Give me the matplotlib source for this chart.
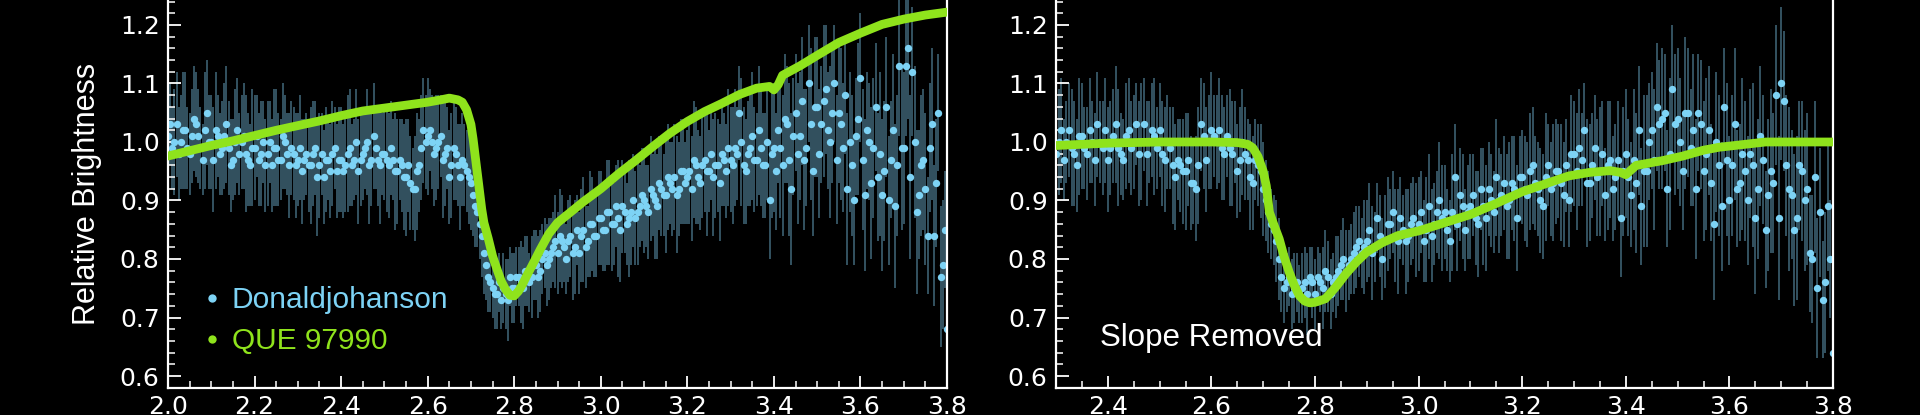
import numpy as np
import matplotlib.pyplot as plt
from matplotlib.lines import Line2D
from matplotlib.ticker import MultipleLocator

# ---- Donaldjohanson spectrum (relative brightness vs wavelength, um)
dj_wl = [2.00, 2.01, 2.02, 2.03, 2.04, 2.05, 2.06, 2.07, 2.08, 2.09,
         2.10, 2.11, 2.12, 2.13, 2.14, 2.15, 2.16, 2.17, 2.18, 2.19,
         2.20, 2.21, 2.22, 2.23, 2.24, 2.25, 2.26, 2.27, 2.28, 2.29,
         2.30, 2.31, 2.32, 2.33, 2.34, 2.35, 2.36, 2.37, 2.38, 2.39,
         2.40, 2.41, 2.42, 2.43, 2.44, 2.45, 2.46, 2.47, 2.48, 2.49,
         2.50, 2.51, 2.52, 2.53, 2.54, 2.55, 2.56, 2.57, 2.58, 2.59,
         2.60, 2.61, 2.62, 2.63, 2.64, 2.65, 2.66, 2.67, 2.68, 2.69,
         2.70, 2.71, 2.72, 2.73, 2.74, 2.75, 2.76, 2.77, 2.78, 2.79,
         2.80, 2.81, 2.82, 2.83, 2.84, 2.85, 2.86, 2.87, 2.88, 2.89,
         2.90, 2.91, 2.92, 2.93, 2.94, 2.95, 2.96, 2.97, 2.98, 2.99,
         3.00, 3.01, 3.02, 3.03, 3.04, 3.05, 3.06, 3.07, 3.08, 3.09,
         3.10, 3.11, 3.12, 3.13, 3.14, 3.15, 3.16, 3.17, 3.18, 3.19,
         3.20, 3.21, 3.22, 3.23, 3.24, 3.25, 3.26, 3.27, 3.28, 3.29,
         3.30, 3.31, 3.32, 3.33, 3.34, 3.35, 3.36, 3.37, 3.38, 3.39,
         3.40, 3.41, 3.42, 3.43, 3.44, 3.45, 3.46, 3.47, 3.48, 3.49,
         3.50, 3.51, 3.52, 3.53, 3.54, 3.55, 3.56, 3.57, 3.58, 3.59,
         3.60, 3.61, 3.62, 3.63, 3.64, 3.65, 3.66, 3.67, 3.68, 3.69,
         3.70, 3.71, 3.72, 3.73, 3.74, 3.75, 3.76, 3.77, 3.78, 3.79,
         3.80]
dj_flux = [1.01, 0.99, 1.03, 1.00, 1.02, 0.98, 1.04, 1.01, 0.97, 1.05,
           1.00, 1.02, 0.98, 1.01, 0.99, 0.97, 1.02, 1.00, 0.98, 0.96,
           0.99, 0.97, 1.00, 0.98, 0.96, 0.99, 0.97, 1.00, 0.96, 0.98,
           0.97, 0.95, 0.98, 0.96, 0.99, 0.96, 0.94, 0.97, 0.98, 0.95,
           0.97, 0.96, 0.99, 0.97, 0.95, 0.98, 1.00, 0.97, 0.99, 0.96,
           0.98, 0.96, 0.97, 0.95, 0.96, 0.94, 0.93, 0.92, 0.96, 1.02,
           1.01, 1.00, 0.99, 1.01, 0.98, 0.94, 0.99, 0.96, 0.97, 0.95,
           0.93, 0.89, 0.86, 0.81, 0.77, 0.75, 0.74, 0.73, 0.74, 0.77,
           0.75, 0.77, 0.75, 0.78, 0.77, 0.79, 0.78, 0.81, 0.80, 0.82,
           0.81, 0.83, 0.80, 0.84, 0.82, 0.81, 0.85, 0.83, 0.86, 0.84,
           0.87, 0.85, 0.88, 0.86, 0.87, 0.89, 0.86, 0.88, 0.87, 0.89,
           0.90, 0.88, 0.91, 0.89, 0.92, 0.91, 0.93, 0.94, 0.92, 0.95,
           0.94, 0.92, 0.96, 0.93, 0.97, 0.95, 0.94, 0.96, 0.98, 0.95,
           0.97, 0.99, 1.05, 0.96, 0.98, 1.01, 0.97, 0.99, 0.96, 0.90,
           0.99, 1.02, 0.96, 1.03, 0.92, 1.05, 1.01, 0.97, 1.10, 0.95,
           1.06, 1.03, 1.09, 1.00, 1.10, 1.05, 0.99, 0.92, 0.96, 1.01,
           1.11, 0.91, 1.00, 0.99, 0.94, 0.91, 1.06, 0.97, 0.89, 1.13,
           0.99, 1.16, 1.12, 0.88, 0.96, 0.92, 0.99, 0.84, 1.05, 0.79,
           0.68]
dj_err = [0.08, 0.07, 0.09, 0.08, 0.10, 0.07, 0.09, 0.08, 0.06, 0.09,
          0.08, 0.10, 0.07, 0.09, 0.08, 0.07, 0.09, 0.08, 0.10, 0.07,
          0.09, 0.08, 0.07, 0.09, 0.08, 0.10, 0.07, 0.08, 0.09, 0.08,
          0.08, 0.09, 0.07, 0.10, 0.08, 0.09, 0.08, 0.07, 0.09, 0.08,
          0.09, 0.08, 0.10, 0.07, 0.09, 0.08, 0.09, 0.08, 0.07, 0.10,
          0.08, 0.09, 0.07, 0.09, 0.08, 0.10, 0.08, 0.09, 0.08, 0.09,
          0.10, 0.08, 0.09, 0.07, 0.09, 0.08, 0.09, 0.07, 0.08, 0.07,
          0.08, 0.07, 0.06, 0.07, 0.06, 0.05, 0.06, 0.05, 0.06, 0.05,
          0.06, 0.05, 0.07, 0.06, 0.07, 0.06, 0.07, 0.06, 0.07, 0.06,
          0.07, 0.08, 0.06, 0.07, 0.08, 0.07, 0.09, 0.06, 0.08, 0.07,
          0.08, 0.07, 0.09, 0.07, 0.10, 0.08, 0.07, 0.09, 0.08, 0.07,
          0.09, 0.08, 0.07, 0.09, 0.08, 0.10, 0.07, 0.09, 0.08, 0.09,
          0.08, 0.09, 0.10, 0.08, 0.09, 0.07, 0.10, 0.08, 0.09, 0.08,
          0.09, 0.10, 0.08, 0.10, 0.09, 0.11, 0.08, 0.10, 0.09, 0.10,
          0.11, 0.09, 0.12, 0.10, 0.13, 0.10, 0.11, 0.12, 0.10, 0.11,
          0.12, 0.10, 0.11, 0.13, 0.10, 0.12, 0.11, 0.13, 0.12, 0.10,
          0.11, 0.13, 0.10, 0.12, 0.11, 0.13, 0.12, 0.10, 0.14, 0.12,
          0.13, 0.12, 0.11, 0.14, 0.12, 0.13, 0.11, 0.12, 0.10, 0.11,
          0.12]

# interleaved half-step channels
dj_wl_mid = [2.005, 2.015, 2.025, 2.035, 2.045, 2.055, 2.065, 2.075, 2.085, 2.095,
             2.105, 2.115, 2.125, 2.135, 2.145, 2.155, 2.165, 2.175, 2.185, 2.195,
             2.205, 2.215, 2.225, 2.235, 2.245, 2.255, 2.265, 2.275, 2.285, 2.295,
             2.305, 2.315, 2.325, 2.335, 2.345, 2.355, 2.365, 2.375, 2.385, 2.395,
             2.405, 2.415, 2.425, 2.435, 2.445, 2.455, 2.465, 2.475, 2.485, 2.495,
             2.505, 2.515, 2.525, 2.535, 2.545, 2.555, 2.565, 2.575, 2.585, 2.595,
             2.605, 2.615, 2.625, 2.635, 2.645, 2.655, 2.665, 2.675, 2.685, 2.695,
             2.705, 2.715, 2.725, 2.735, 2.745, 2.755, 2.765, 2.775, 2.785, 2.795,
             2.805, 2.815, 2.825, 2.835, 2.845, 2.855, 2.865, 2.875, 2.885, 2.895,
             2.905, 2.915, 2.925, 2.935, 2.945, 2.955, 2.965, 2.975, 2.985, 2.995,
             3.005, 3.015, 3.025, 3.035, 3.045, 3.055, 3.065, 3.075, 3.085, 3.095,
             3.105, 3.115, 3.125, 3.135, 3.145, 3.155, 3.165, 3.175, 3.185, 3.195,
             3.205, 3.215, 3.225, 3.235, 3.245, 3.255, 3.265, 3.275, 3.285, 3.295,
             3.305, 3.315, 3.325, 3.335, 3.345, 3.355, 3.365, 3.375, 3.385, 3.395,
             3.405, 3.415, 3.425, 3.435, 3.445, 3.455, 3.465, 3.475, 3.485, 3.495,
             3.505, 3.515, 3.525, 3.535, 3.545, 3.555, 3.565, 3.575, 3.585, 3.595,
             3.605, 3.615, 3.625, 3.635, 3.645, 3.655, 3.665, 3.675, 3.685, 3.695,
             3.705, 3.715, 3.725, 3.735, 3.745, 3.755, 3.765, 3.775, 3.785, 3.795]
dj_flux_mid = [1.03, 1.00, 0.98, 1.02, 0.99, 1.01, 1.03, 0.99, 1.02, 1.00,
               0.97, 1.01, 0.99, 1.03, 0.96, 1.00, 0.98, 1.01, 0.97, 0.99,
               1.01, 0.98, 0.96, 1.00, 0.99, 0.97, 1.01, 0.98, 0.99, 0.96,
               0.99, 0.97, 0.96, 0.98, 0.94, 0.98, 0.97, 0.95, 0.99, 0.97,
               0.95, 0.98, 0.96, 1.00, 0.97, 0.99, 0.96, 1.01, 0.97, 0.98,
               0.97, 0.99, 0.95, 0.97, 0.94, 0.96, 0.92, 0.95, 0.99, 1.00,
               1.02, 0.98, 1.00, 0.97, 0.99, 0.96, 0.98, 0.94, 0.96, 0.94,
               0.91, 0.88, 0.84, 0.79, 0.76, 0.74, 0.76, 0.75, 0.73, 0.75,
               0.77, 0.76, 0.78, 0.76, 0.79, 0.77, 0.80, 0.79, 0.81, 0.83,
               0.84, 0.82, 0.83, 0.81, 0.85, 0.84, 0.82, 0.86, 0.84, 0.87,
               0.85, 0.88, 0.86, 0.89, 0.85, 0.88, 0.87, 0.90, 0.88, 0.91,
               0.89, 0.92, 0.90, 0.93, 0.91, 0.94, 0.92, 0.91, 0.95, 0.93,
               0.95, 0.97, 0.94, 0.96, 0.95, 0.98, 0.96, 0.93, 0.97, 0.99,
               0.96, 0.98, 1.00, 0.95, 0.99, 0.97, 1.02, 0.96, 1.00, 0.98,
               0.95, 0.99, 1.04, 0.97, 1.01, 0.98, 1.07, 0.99, 1.03, 1.06,
               0.98, 1.07, 1.02, 1.05, 0.97, 1.03, 1.08, 1.00, 0.90, 1.04,
               0.97, 1.02, 0.93, 1.06, 0.98, 0.95, 0.90, 1.02, 0.96, 0.99,
               1.13, 0.94, 1.00, 0.91, 0.97, 0.84, 1.03, 0.93, 0.77, 0.85]
dj_err_mid = [0.07, 0.09, 0.08, 0.10, 0.07, 0.08, 0.09, 0.07, 0.10, 0.08,
              0.09, 0.07, 0.08, 0.10, 0.08, 0.09, 0.07, 0.09, 0.08, 0.10,
              0.07, 0.09, 0.08, 0.07, 0.10, 0.08, 0.09, 0.07, 0.08, 0.09,
              0.09, 0.07, 0.08, 0.09, 0.10, 0.07, 0.09, 0.08, 0.07, 0.09,
              0.08, 0.10, 0.07, 0.09, 0.08, 0.07, 0.10, 0.09, 0.08, 0.07,
              0.09, 0.08, 0.10, 0.07, 0.09, 0.08, 0.07, 0.10, 0.09, 0.08,
              0.07, 0.09, 0.08, 0.10, 0.07, 0.09, 0.08, 0.09, 0.07, 0.08,
              0.07, 0.06, 0.07, 0.06, 0.05, 0.06, 0.05, 0.06, 0.07, 0.06,
              0.05, 0.07, 0.06, 0.05, 0.06, 0.07, 0.06, 0.07, 0.06, 0.08,
              0.08, 0.06, 0.07, 0.08, 0.06, 0.08, 0.07, 0.09, 0.07, 0.08,
              0.07, 0.09, 0.08, 0.07, 0.09, 0.07, 0.10, 0.08, 0.09, 0.08,
              0.07, 0.09, 0.10, 0.08, 0.07, 0.09, 0.08, 0.10, 0.09, 0.07,
              0.09, 0.10, 0.08, 0.09, 0.11, 0.08, 0.09, 0.10, 0.08, 0.10,
              0.10, 0.08, 0.11, 0.09, 0.10, 0.09, 0.11, 0.09, 0.10, 0.11,
              0.10, 0.12, 0.11, 0.13, 0.10, 0.12, 0.11, 0.10, 0.13, 0.12,
              0.11, 0.13, 0.10, 0.12, 0.11, 0.13, 0.10, 0.12, 0.11, 0.13,
              0.12, 0.10, 0.13, 0.11, 0.14, 0.12, 0.11, 0.13, 0.12, 0.14,
              0.12, 0.14, 0.13, 0.11, 0.12, 0.10, 0.13, 0.11, 0.12, 0.10]

# ---- Donaldjohanson, slope removed (2.30 - 3.80 um)
rm_wl = dj_wl[30:]
rm_flux = [0.98, 1.02, 1.00, 0.99, 0.96, 1.01, 0.98, 1.00, 1.03, 0.99,
           0.97, 1.01, 0.99, 0.97, 1.02, 1.00, 0.98, 1.03, 1.00, 1.01,
           1.02, 0.97, 0.99, 0.94, 0.96, 0.95, 0.93, 0.92, 1.03, 0.97,
           1.02, 1.00, 0.99, 1.01, 0.98, 0.95, 1.00, 0.97, 0.93, 0.96,
           0.92, 0.88, 0.85, 0.80, 0.75, 0.77, 0.75, 0.74, 0.76, 0.77,
           0.74, 0.76, 0.78, 0.74, 0.77, 0.79, 0.78, 0.80, 0.82, 0.81,
           0.83, 0.81, 0.87, 0.80, 0.86, 0.88, 0.83, 0.85, 0.84, 0.87,
           0.86, 0.83, 0.89, 0.86, 0.90, 0.88, 0.83, 0.94, 0.91, 0.85,
           0.89, 0.87, 0.92, 0.87, 0.90, 0.94, 0.91, 0.89, 0.93, 0.87,
           0.94, 0.91, 0.96, 0.92, 0.89, 0.96, 0.93, 0.95, 0.91, 0.90,
           0.98, 0.99, 1.02, 0.93, 0.99, 0.95, 0.91, 0.97, 0.94, 0.87,
           0.98, 0.91, 0.93, 0.89, 0.95, 1.02, 1.06, 1.04, 0.92, 1.09,
           1.04, 0.95, 1.05, 1.02, 1.05, 0.95, 1.02, 0.86, 0.96, 1.06,
           0.90, 1.03, 0.93, 0.95, 0.98, 0.87, 1.01, 0.85, 0.95, 1.08,
           1.10, 0.96, 0.91, 0.87, 0.95, 0.92, 0.80, 0.75, 0.73, 0.89,
           0.64]
rm_err = dj_err[30:]
rm_wl_mid = dj_wl_mid[30:]
rm_flux_mid = [1.00, 0.97, 1.02, 0.98, 1.01, 0.99, 1.02, 0.97, 1.00, 1.02,
               0.99, 1.03, 0.98, 1.01, 0.99, 1.03, 1.00, 0.98, 1.02, 0.99,
               0.98, 1.00, 0.96, 0.97, 0.95, 0.97, 0.93, 0.96, 1.01, 1.00,
               1.01, 1.02, 0.98, 0.99, 1.00, 0.97, 0.98, 0.94, 0.97, 0.95,
               0.90, 0.86, 0.83, 0.77, 0.76, 0.74, 0.76, 0.75, 0.74, 0.76,
               0.77, 0.75, 0.77, 0.76, 0.78, 0.80, 0.79, 0.81, 0.83, 0.82,
               0.85, 0.82, 0.84, 0.83, 0.86, 0.84, 0.87, 0.83, 0.86, 0.85,
               0.88, 0.85, 0.84, 0.88, 0.87, 0.85, 0.88, 0.86, 0.89, 0.88,
               0.91, 0.86, 0.89, 0.92, 0.88, 0.90, 0.93, 0.90, 0.92, 0.94,
               0.92, 0.95, 0.93, 0.90, 0.94, 0.92, 0.95, 0.93, 0.96, 0.98,
               0.95, 0.97, 0.93, 0.96, 0.94, 0.98, 0.96, 0.92, 0.97, 0.95,
               0.94, 0.97, 1.02, 0.95, 1.00, 0.97, 1.03, 1.05, 0.98, 1.03,
               1.00, 1.05, 0.99, 0.92, 1.03, 0.98, 0.93, 1.00, 0.89, 0.97,
               0.96, 0.92, 0.98, 0.90, 0.96, 0.92, 0.97, 0.91, 0.93, 0.87,
               1.07, 0.92, 0.85, 0.96, 0.90, 0.81, 0.94, 0.88, 0.76, 0.80]
rm_err_mid = dj_err_mid[30:]

# ---- QUE 97990 meteorite spectrum
que_wl = [2.00, 2.05, 2.10, 2.15, 2.20, 2.25, 2.30, 2.35, 2.40, 2.45,
          2.50, 2.55, 2.60, 2.63, 2.65, 2.67, 2.68, 2.69, 2.70, 2.705,
          2.71, 2.715, 2.72, 2.725, 2.73, 2.74, 2.75, 2.76, 2.77, 2.78,
          2.79, 2.80, 2.81, 2.82, 2.83, 2.84, 2.86, 2.88, 2.90, 2.93,
          2.96, 3.00, 3.04, 3.08, 3.12, 3.16, 3.20, 3.24, 3.28, 3.32,
          3.36, 3.39, 3.40, 3.41, 3.42, 3.46, 3.50, 3.55, 3.60, 3.65,
          3.70, 3.75, 3.80]
que_flux = [0.976, 0.985, 0.994, 1.002, 1.011, 1.020, 1.028, 1.036, 1.045, 1.053,
            1.058, 1.063, 1.068, 1.072, 1.075, 1.072, 1.068, 1.055, 1.030, 1.005,
            0.975, 0.945, 0.915, 0.885, 0.862, 0.835, 0.805, 0.783, 0.762, 0.748,
            0.738, 0.737, 0.745, 0.758, 0.773, 0.787, 0.816, 0.843, 0.862, 0.880,
            0.898, 0.920, 0.945, 0.968, 0.992, 1.015, 1.035, 1.052, 1.066, 1.081,
            1.092, 1.095, 1.089, 1.098, 1.114, 1.130, 1.148, 1.170, 1.186, 1.201,
            1.210, 1.217, 1.222]

que_rm_wl = [2.30, 2.35, 2.40, 2.50, 2.60, 2.65, 2.67, 2.68, 2.69, 2.70,
             2.706, 2.712, 2.72, 2.731, 2.74, 2.75, 2.76, 2.77, 2.78, 2.79,
             2.80, 2.82, 2.84, 2.86, 2.88, 2.90, 2.93, 2.96, 3.00, 3.05,
             3.10, 3.15, 3.20, 3.25, 3.29, 3.33, 3.37, 3.39, 3.40, 3.41,
             3.42, 3.47, 3.51, 3.55, 3.58, 3.63, 3.67, 3.72, 3.80]
que_rm_flux = [0.994, 0.996, 0.998, 1.000, 1.000, 0.999, 0.996, 0.990, 0.975, 0.950,
               0.925, 0.880, 0.860, 0.834, 0.805, 0.778, 0.755, 0.737, 0.728, 0.725,
               0.726, 0.732, 0.752, 0.775, 0.795, 0.812, 0.828, 0.840, 0.848, 0.862,
               0.876, 0.895, 0.915, 0.930, 0.942, 0.948, 0.951, 0.948, 0.944, 0.952,
               0.960, 0.968, 0.976, 0.986, 0.991, 0.996, 1.000, 1.000, 1.000]

blue = '#7dd3f5'
green = '#8fe31c'
errc = '#4f7f95'
label_font = 'Liberation Sans'

plt.rcParams['font.family'] = 'DejaVu Sans'
fig = plt.figure(figsize=(19.2, 4.15), dpi=100, facecolor='black')

ax1 = fig.add_axes([168/1920, 27/415, 779/1920, 388/415])
ax2 = fig.add_axes([1056/1920, 27/415, 777/1920, 388/415])


def draw_panel(ax, wl, flux, err, gwl, gflux, xmin):
    ax.set_facecolor('black')
    ax.errorbar(wl, flux, yerr=err, fmt='none', ecolor=errc,
                elinewidth=1.3, alpha=0.7, zorder=1)
    ax.plot(wl, flux, 'o', ms=5.3, color=blue, mec='none', zorder=2)
    ax.plot(gwl, gflux, '-', lw=6.3, color=green, solid_capstyle='round', zorder=3)

    ax.set_xlim(xmin, 3.8)
    ax.set_ylim(0.5795, 1.2427)
    ax.xaxis.set_major_locator(MultipleLocator(0.2))
    ax.xaxis.set_minor_locator(MultipleLocator(0.05))
    ax.yaxis.set_major_locator(MultipleLocator(0.1))
    ax.yaxis.set_minor_locator(MultipleLocator(0.02))
    ax.xaxis.set_major_formatter(plt.FormatStrFormatter('%.1f'))
    ax.yaxis.set_major_formatter(plt.FormatStrFormatter('%.1f'))

    ax.tick_params(which='both', direction='in', colors='white',
                   top=False, right=False, labelsize=18)
    ax.tick_params(which='major', length=9, width=1.3)
    ax.tick_params(which='minor', length=5, width=1.1)
    ax.tick_params(axis='x', pad=5)
    ax.tick_params(axis='y', pad=6)
    for side in ['left', 'bottom', 'right']:
        ax.spines[side].set_color('white')
        ax.spines[side].set_linewidth(1.6)
    ax.spines['top'].set_visible(False)


draw_panel(ax1, dj_wl + dj_wl_mid, dj_flux + dj_flux_mid, dj_err + dj_err_mid,
           que_wl, que_flux, 2.0)
draw_panel(ax2, rm_wl + rm_wl_mid, rm_flux + rm_flux_mid, rm_err + rm_err_mid,
           que_rm_wl, que_rm_flux, 2.3)

ax1.set_ylabel('Relative Brightness', color='white', fontsize=22,
               family=label_font)
ax1.yaxis.set_label_coords(-0.085, 0.5)

handles = [Line2D([], [], ls='none', marker='o', ms=6, color=blue, mec='none'),
           Line2D([], [], ls='none', marker='o', ms=6, color=green, mec='none')]
leg = ax1.legend(handles, ['Donaldjohanson', 'QUE 97990'], loc='lower left',
                 bbox_to_anchor=(0.041, 0.085), frameon=False,
                 prop={'family': label_font, 'size': 21.5},
                 handlelength=0.8, handletextpad=0.27, labelspacing=0.42,
                 borderpad=0, borderaxespad=0)
for txt, c in zip(leg.get_texts(), [blue, green]):
    txt.set_color(c)

ax2.text(0.057, 0.129, 'Slope Removed', transform=ax2.transAxes,
         color='white', fontsize=22.5, family=label_font,
         ha='left', va='center')

fig.savefig('out.png', dpi=100, facecolor='black')
